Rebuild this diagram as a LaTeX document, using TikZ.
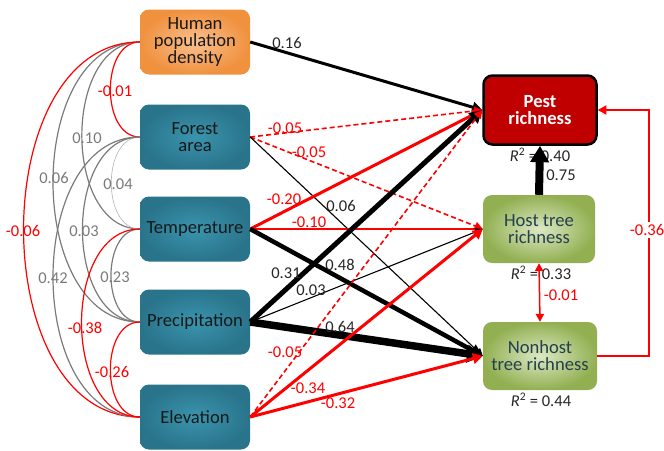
\documentclass[tikz,border=0pt]{standalone}
\usepackage{fontspec}
\setmainfont{Carlito}
\usetikzlibrary{arrows.meta}
\definecolor{tealA}{HTML}{3A94AD}
\definecolor{tealB}{HTML}{29748B}
\definecolor{orA}{HTML}{F9C08F}
\definecolor{orB}{HTML}{F0913E}
\definecolor{grA}{HTML}{DCE8C4}
\definecolor{grB}{HTML}{92B052}
\definecolor{pestred}{HTML}{C00000}
\definecolor{grtext}{HTML}{24404E}
\definecolor{arcgray}{HTML}{7A7A7A}
\begin{document}
\begin{tikzpicture}[x=1pt,y=-1pt,
  >={Triangle[length=6pt 1.3,width=6pt 1.5]},
  box/.style={rounded corners=9pt,minimum width=110pt,minimum height=65pt,align=center,inner sep=2pt,font=\fontsize{18.6}{17}\selectfont},
  tealbox/.style={box,inner color=tealA,outer color=tealB,text=black!90},
  orbox/.style={box,inner color=orA,outer color=orB,text=black!90},
  grbox/.style={box,minimum width=112pt,minimum height=68pt,inner color=grA,outer color=grB,text=grtext},
  pestbox/.style={box,minimum width=113pt,minimum height=69pt,fill=pestred,draw=black,line width=2.5pt,text=white,font=\fontsize{18.6}{17}\selectfont\bfseries},
  lab/.style={inner sep=0pt,font=\fontsize{16.5}{16}\selectfont},
  rlab/.style={lab,text=red},
  glab/.style={lab,text=arcgray},
  klab/.style={lab,text=black!85},
  garc/.style={draw=arcgray,line width=1.2pt},
  rarc/.style={draw=red,line width=1.2pt},
  kar/.style={draw=black,->},
  rar/.style={draw=red,->},
  rdash/.style={draw=red,->,line width=1.6pt,dash pattern=on 5pt off 3pt},
  corr/.style={out=180,in=180,looseness=1.06}
]
\useasboundingbox (0,0) rectangle (664,450);

% left boxes
\node[orbox] (hum) at (195,42) {Human\\population\\density};
\node[tealbox] (for) at (195,137) {Forest\\area};
\node[tealbox] (tem) at (195,229) {Temperature};
\node[tealbox] (pre) at (195,322) {Precipitation};
\node[tealbox] (ele) at (195,417) {Elevation};

% right boxes
\node[pestbox] (pest) at (540,110) {Pest\\richness};
\node[grbox] (host) at (539,229) {Host tree\\richness};
\node[grbox,minimum width=114pt] (non) at (540,356) {Nonhost\\tree richness};

% correlation arcs
\draw[rarc] (hum.west) to[corr] (for.west);
\draw[garc] (hum.west) to[corr] (tem.west);
\draw[garc] (hum.west) to[corr] (pre.west);
\draw[rarc] (hum.west) to[corr] (ele.west);
\draw[draw=black!30,line width=0.6pt] (for.west) to[corr] (tem.west);
\draw[garc] (for.west) to[corr] (pre.west);
\draw[garc] (for.west) to[corr] (ele.west);
\draw[garc] (tem.west) to[corr] (pre.west);
\draw[rarc] (tem.west) to[corr] (ele.west);
\draw[rarc] (pre.west) to[corr] (ele.west);

\node[rlab] (c1) at (115,91) {-0.01};
\node[glab] (c2) at (87,138) {0.10};
\node[glab] (c3) at (54,178) {0.06};
\node[glab] (c4) at (118,184) {0.04};
\node[rlab] (c5) at (23,231) {-0.06};
\node[glab] (c6) at (84,231) {0.03};
\node[glab] (c7) at (53,278) {0.42};
\node[glab] (c8) at (115,277) {0.23};
\node[rlab] (c9) at (85,328) {-0.38};
\node[rlab] (c10) at (112,372) {-0.26};

% paths
\draw[kar,line width=3pt] (hum.east) -- (pest.west);
\draw[rdash] (for.east) -- (pest.west);
\draw[rdash] (for.east) -- (host.west);
\draw[kar,line width=1.1pt] (for.east) -- (non.west);
\draw[rar,line width=3pt] (tem.east) -- (pest.west);
\draw[rar,line width=1.6pt] (tem.east) -- (host.west);
\draw[kar,line width=4.5pt] (tem.east) -- (non.west);
\draw[kar,line width=5pt] (pre.east) -- (pest.west);
\draw[kar,line width=1.1pt] (pre.east) -- (host.west);
\draw[kar,line width=7.5pt] (pre.east) -- (non.west);
\draw[rdash] (ele.east) -- (pest.west);
\draw[rar,line width=3pt] (ele.east) -- (host.west);
\draw[rar,line width=3pt] (ele.east) -- (non.west);

\node[klab] (p1) at (287,43) {0.16};
\node[rlab] (p2) at (285,128) {-0.05};
\node[rlab] (p3) at (309,152) {-0.05};
\node[rlab] (p4) at (284,199) {-0.20};
\node[klab] (p5) at (341,206) {0.06};
\node[rlab] (p6) at (309,222) {-0.10};
\node[klab] (p7) at (286,273) {0.31};
\node[klab] (p8) at (340,265) {0.48};
\node[klab] (p9) at (311,290) {0.03};
\node[klab] (p10) at (340,327) {0.64};
\node[rlab] (p11) at (285,352) {-0.05};
\node[rlab] (p12) at (308,388) {-0.34};
\node[rlab] (p13) at (338,403) {-0.32};

% right side
\node[klab] (r40) at (540,155) {\itshape R\textsuperscript{\upshape 2}\upshape\ = 0.40};
\node[klab] (r33) at (541,273) {\itshape R\textsuperscript{\upshape 2}\upshape\ = 0.33};
\node[klab] (r44) at (541,400) {\itshape R\textsuperscript{\upshape 2}\upshape\ = 0.44};
\draw[kar,line width=8pt] (host.north) -- (pest.south);
\node[klab] (b75) at (561,175) {0.75};
\draw[red,line width=1.5pt,<->] (host.south) -- (non.north);
\node[rlab] (b01) at (561,295) {-0.01};
\coordinate (rc) at (649,230);
\draw[rar,line width=2pt] (non.east) -- (non.east -| rc) -- (pest.east -| rc) -- (pest.east);
\node[rlab,fill=white,inner sep=2pt] (b36) at (647,230) {-0.36};
\end{tikzpicture}
\end{document}
